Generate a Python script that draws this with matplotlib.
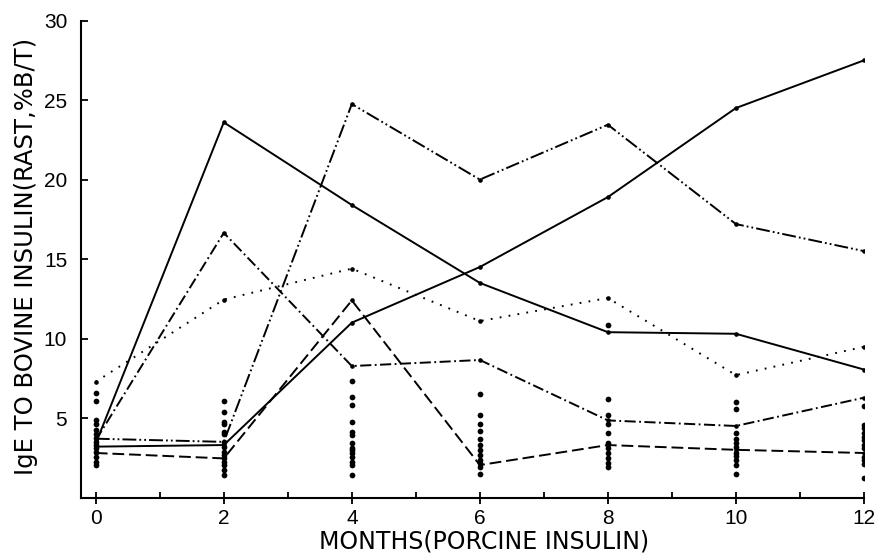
import numpy as np
import matplotlib
matplotlib.use('Agg')
import matplotlib.pyplot as plt

plt.rcParams['font.family'] = ['Liberation Sans', 'DejaVu Sans']
plt.rcParams['lines.scale_dashes'] = False

# months of follow-up
months = [0, 2, 4, 6, 8, 10, 12]

# individual patients followed with lines
pat_a = [3.4, 23.6, 18.4, 13.5, 10.4, 10.3, 8.05]      # solid
pat_b = [3.2, 3.3, 11.0, 14.5, 18.9, 24.5, 27.5]       # solid
pat_c = [3.6, 16.65, 8.27, 8.65, 4.85, 4.5, 6.28]      # dash-dot
pat_d = [3.7, 3.5, 24.75, 20.0, 23.45, 17.2, 15.5]     # dash-dot-dot
pat_e = [7.28, 12.45, 14.4, 11.1, 12.55, 7.7, 9.48]    # dotted
pat_f = [2.8, 2.46, 12.4, 2.04, 3.3, 3.0, 2.8]         # dashed

# remaining patients (dots only), per month
dots_m0 = [6.6, 6.07, 4.87, 4.6, 4.24, 4.0, 3.72, 3.5, 3.3, 3.1, 2.88, 2.57, 2.25, 2.04]
dots_m2 = [6.07, 5.4, 4.77, 4.6, 4.14, 4.0, 3.5, 3.2, 2.88, 2.67, 2.46, 2.25, 2.04, 1.73, 1.41]
dots_m4 = [7.3, 6.34, 5.82, 4.77, 4.14, 3.93, 3.4, 3.1, 2.99, 2.78, 2.57, 2.25, 2.04, 1.41]
dots_m6 = [6.5, 5.19, 4.62, 4.18, 3.66, 3.3, 2.99, 2.67, 2.36, 2.14, 1.93, 1.5]
dots_m8 = [10.85, 6.2, 5.2, 4.6, 4.05, 3.4, 3.1, 2.8, 2.5, 2.2, 1.9]
dots_m10 = [6.0, 5.55, 4.05, 3.7, 3.4, 3.2, 2.8, 2.6, 2.36, 2.04, 1.5]
dots_m12 = [5.75, 4.56, 4.35, 4.04, 3.83, 3.62, 3.3, 3.1, 2.57, 2.36, 2.1, 1.25]
dots_all = [dots_m0, dots_m2, dots_m4, dots_m6, dots_m8, dots_m10, dots_m12]

fig = plt.figure(figsize=(8.78, 5.57), dpi=100)
ax = fig.add_axes([0.0923, 0.1068, 0.8917, 0.8562])

lw = 1.4
ax.plot(months, pat_a, color='k', lw=lw, ls='-')
ax.plot(months, pat_b, color='k', lw=lw, ls='-')
ax.plot(months, pat_c, color='k', lw=lw, ls=(0, (8, 2.5, 1.3, 2.5)))
ax.plot(months, pat_d, color='k', lw=lw, ls=(0, (10, 2.2, 1.3, 2.2, 1.3, 2.2)))
ax.plot(months, pat_e, color='k', lw=lw, ls=(0, (1.3, 5.2)))
ax.plot(months, pat_f, color='k', lw=lw, ls=(0, (8.5, 3.5)))

# dots
for pat in [pat_a, pat_b, pat_c, pat_d, pat_e, pat_f]:
    ax.scatter(months, pat, s=11, color='k', zorder=3, linewidths=0)
for m, vals in zip(months, dots_all):
    ax.scatter([m] * len(vals), vals, s=17, color='k', zorder=3, linewidths=0)

ax.set_xlim(-0.23, 12.0)
ax.set_ylim(0, 30)
ax.set_xticks(months)
ax.set_xticks([1, 3, 5, 7, 9, 11], minor=True)
ax.set_yticks([5, 10, 15, 20, 25, 30])
ax.tick_params(axis='x', which='major', direction='inout', length=8, width=1.3,
               labelsize=15, pad=4)
ax.tick_params(axis='x', which='minor', direction='in', length=4.5, width=1.3)
ax.tick_params(axis='y', direction='in', length=5, width=1.3, labelsize=15, pad=10)

for s in ['top', 'right']:
    ax.spines[s].set_visible(False)
for s in ['left', 'bottom']:
    ax.spines[s].set_linewidth(1.5)

fig.text(0.551, 0.027, 'MONTHS(PORCINE INSULIN)', fontsize=17,
         family='DejaVu Sans', ha='center', va='center')
fig.text(0.030, 0.54, 'IgE TO BOVINE INSULIN(RAST,%B/T)', fontsize=17.5,
         family='DejaVu Sans', ha='center', va='center', rotation=90)

fig.savefig('out.png', dpi=100)
